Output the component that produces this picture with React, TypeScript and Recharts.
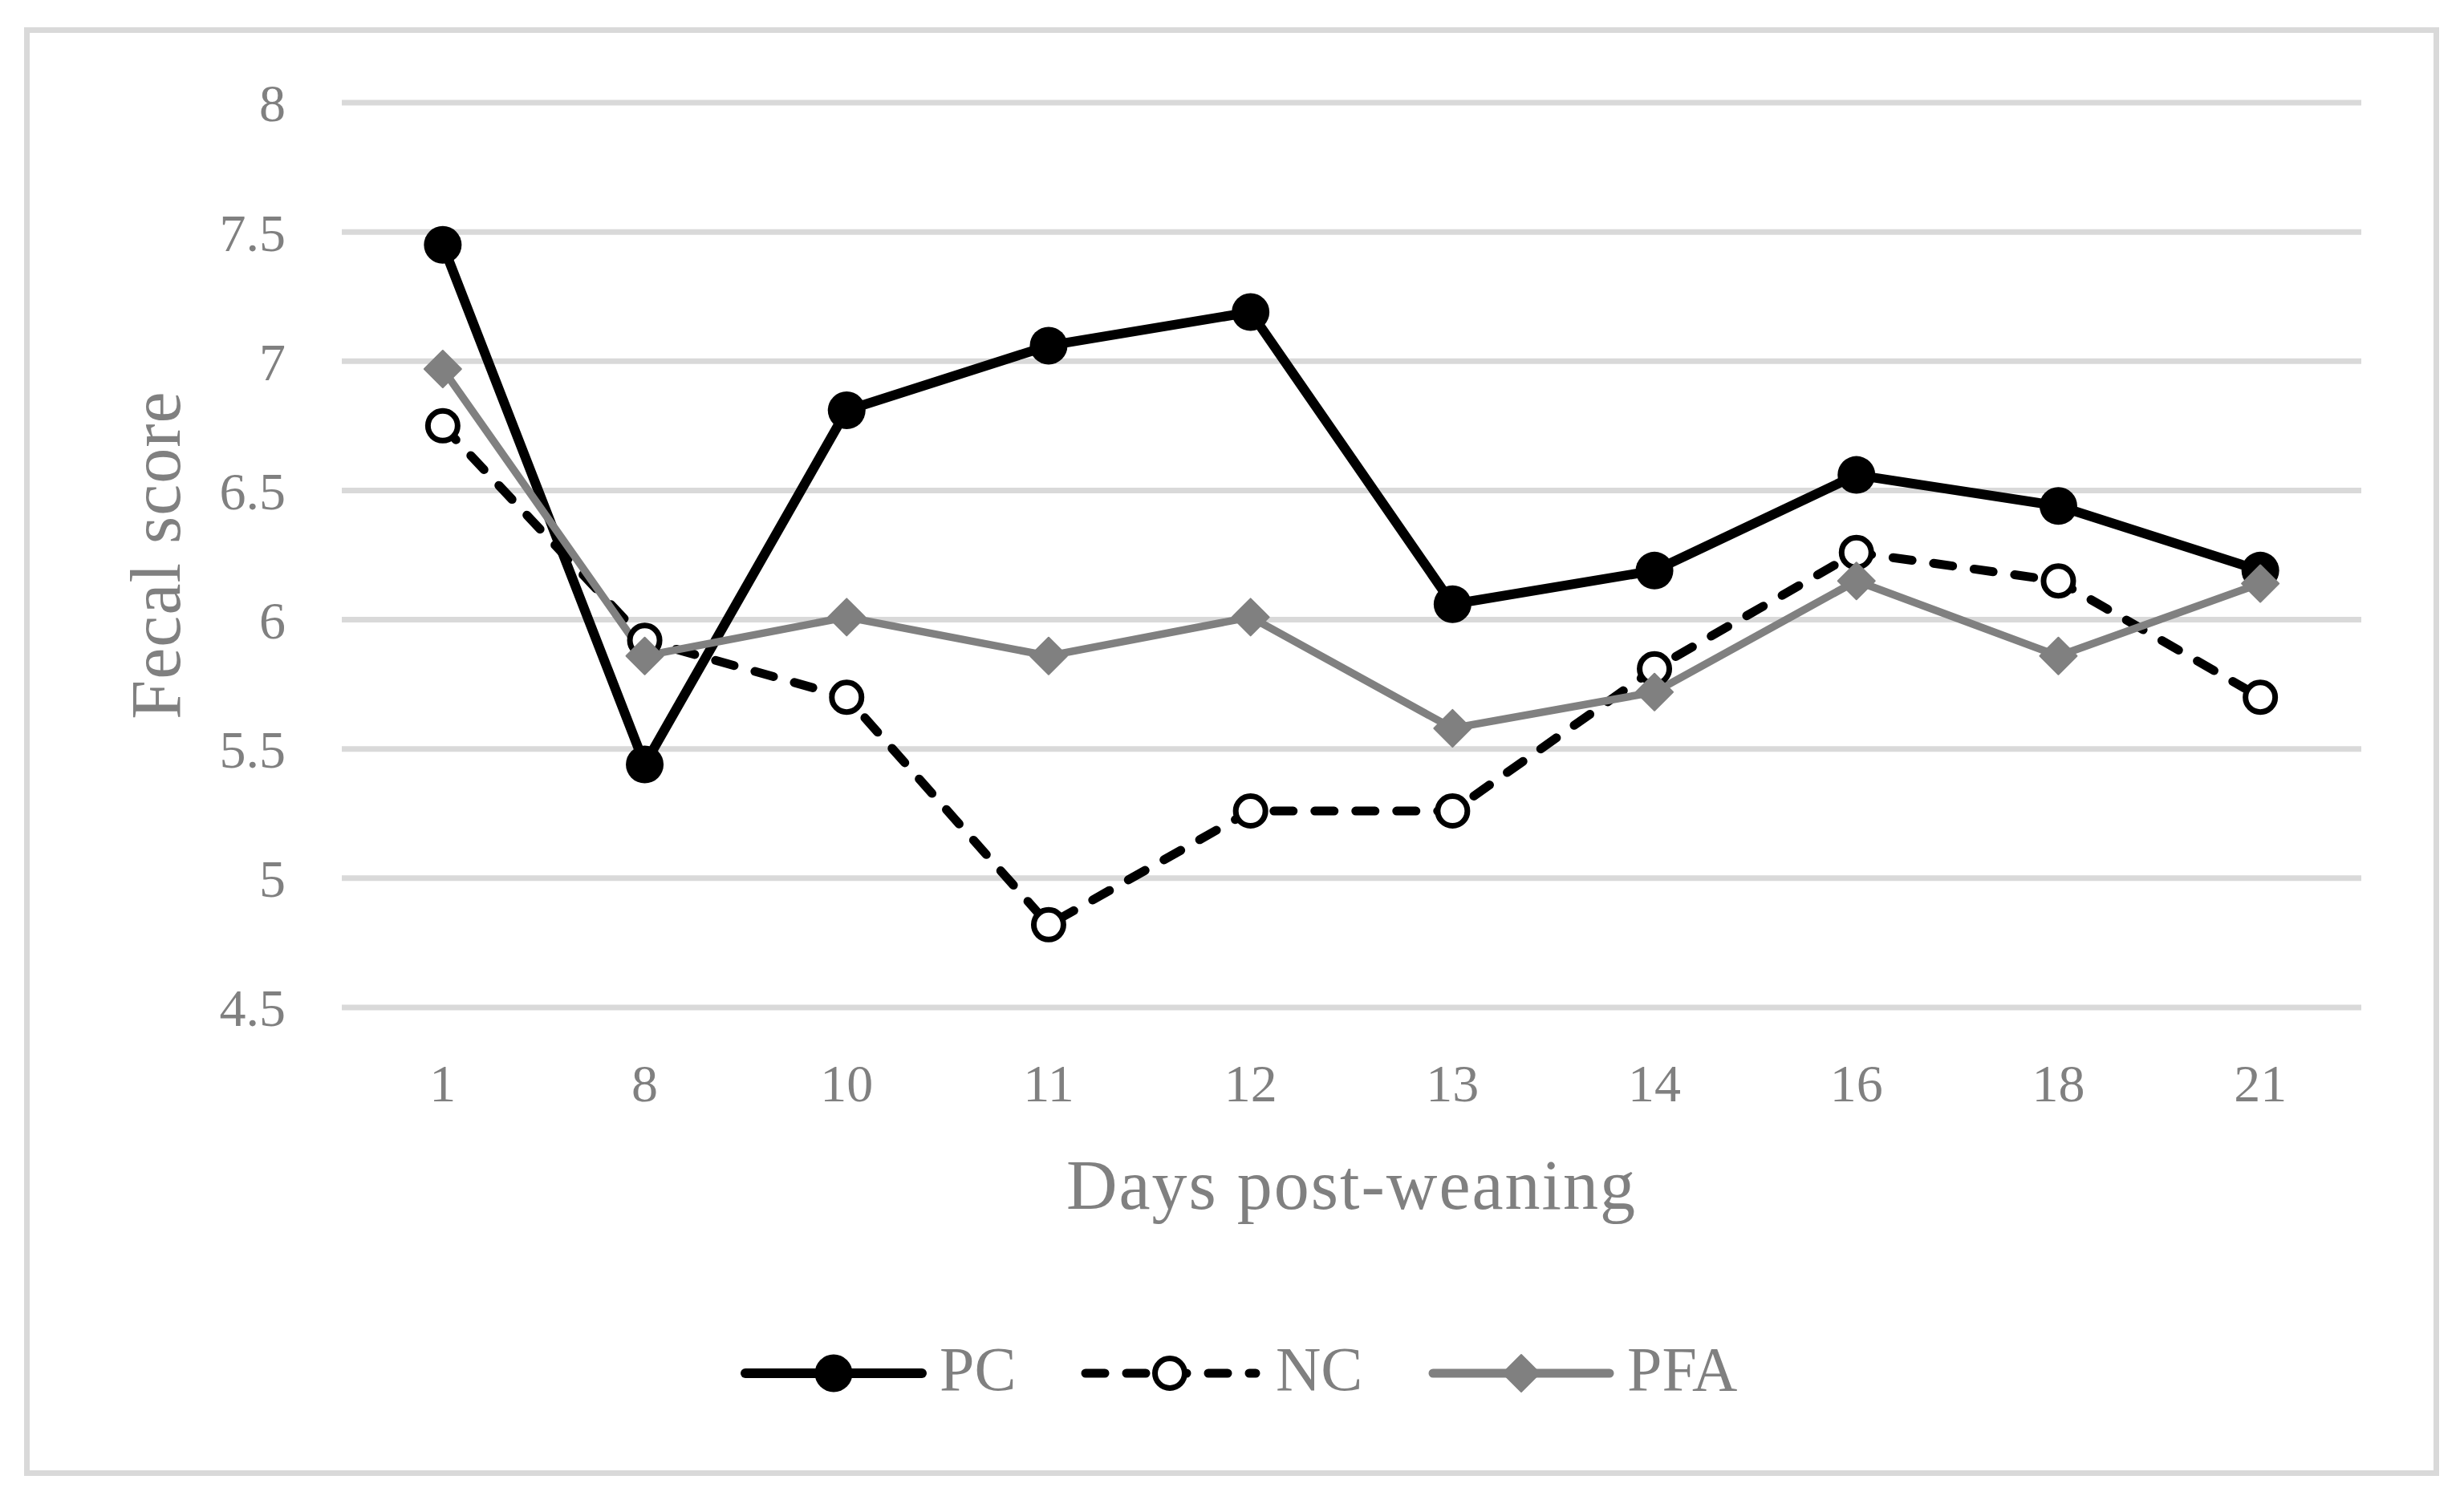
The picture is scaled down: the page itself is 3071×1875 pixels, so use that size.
import React from 'react';
import { LineChart, Line, XAxis, YAxis, CartesianGrid, Legend } from 'recharts';

const days = ['1', '8', '10', '11', '12', '13', '14', '16', '18', '21'];
const pcValues = [7.45, 5.44, 6.81, 7.06, 7.19, 6.06, 6.19, 6.56, 6.44, 6.19];
const ncValues = [6.75, 5.92, 5.7, 4.82, 5.26, 5.26, 5.81, 6.26, 6.15, 5.7];
const pfaValues = [6.97, 5.86, 6.01, 5.86, 6.01, 5.58, 5.72, 6.15, 5.86, 6.14];
const yTicks = [4.5, 5, 5.5, 6, 6.5, 7, 7.5, 8];
const seriesNames = ['PC', 'NC', 'PFA'];

const data = days.map((d, i) => ({
  day: d,
  PC: pcValues[i],
  NC: ncValues[i],
  PFA: pfaValues[i],
}));

const W = 3071;
const H = 1875;
const FONT = '"Liberation Serif", "Times New Roman", serif';
const TEXT = '#808080';
const GRID = '#d9d9d9';
const GRAY = '#808080';

const Diamond = (props: any) => {
  const { cx, cy, index } = props;
  if (cx == null || cy == null) return <g key={`pfa-dot-${index}`} />;
  const s = 23;
  return (
    <path
      key={`pfa-dot-${index}`}
      d={`M${cx},${cy - s}L${cx + s},${cy}L${cx},${cy + s}L${cx - s},${cy}Z`}
      fill={GRAY}
      stroke={GRAY}
      strokeWidth={2}
      strokeLinejoin="round"
    />
  );
};

const XTitle = (props: any) => {
  const vb = props.viewBox || { x: 426, y: 1256, width: 2517, height: 619 };
  return (
    <text
      x={vb.x + vb.width / 2}
      y={vb.y + 251}
      textAnchor="middle"
      fill={TEXT}
      fontFamily={FONT}
      fontSize={88}
      letterSpacing={2}
    >
      Days post-weaning
    </text>
  );
};

const YTitle = (props: any) => {
  const vb = props.viewBox || { x: 0, y: 128, width: 426, height: 1128 };
  const cx = 224;
  const cy = vb.y + vb.height / 2;
  return (
    <text
      x={cx}
      y={cy}
      textAnchor="middle"
      transform={`rotate(-90, ${cx}, ${cy})`}
      fill={TEXT}
      fontFamily={FONT}
      fontSize={88}
      letterSpacing={1}
    >
      Fecal score
    </text>
  );
};

const legendItemX = [929, 1348, 1786];

const renderLegend = (props: any) => {
  const payload = props.payload || [];
  const present = payload.map((p: any) => p.value);
  const names = seriesNames.filter((n) => present.length === 0 || present.includes(n));
  const cy = 62;
  return (
    <svg width={W} height={124} style={{ display: 'block' }}>
      {names.map((name: string) => {
        const i = seriesNames.indexOf(name);
        const x0 = legendItemX[i];
        const mx = x0 + 110;
        let icon = null;
        if (name === 'PC') {
          icon = (
            <g>
              <line x1={x0} y1={cy} x2={x0 + 220} y2={cy} stroke="#000" strokeWidth={12} strokeLinecap="round" />
              <circle cx={mx} cy={cy} r={23.5} fill="#000" />
            </g>
          );
        } else if (name === 'NC') {
          icon = (
            <g>
              <line
                x1={x0 + 5}
                y1={cy}
                x2={x0 + 217}
                y2={cy}
                stroke="#000"
                strokeWidth={11}
                strokeDasharray="24 27"
                strokeLinecap="round"
              />
              <circle cx={mx} cy={cy} r={18.5} fill="#fff" stroke="#000" strokeWidth={7} />
            </g>
          );
        } else {
          icon = (
            <g>
              <line x1={x0} y1={cy} x2={x0 + 220} y2={cy} stroke={GRAY} strokeWidth={11} strokeLinecap="round" />
              <path
                d={`M${mx},${cy - 23}L${mx + 23},${cy}L${mx},${cy + 23}L${mx - 23},${cy}Z`}
                fill={GRAY}
                stroke={GRAY}
                strokeWidth={2}
                strokeLinejoin="round"
              />
            </g>
          );
        }
        return (
          <g key={name}>
            {icon}
            <text x={x0 + 242} y={cy + 21} fill={TEXT} fontFamily={FONT} fontSize={78}>
              {name}
            </text>
          </g>
        );
      })}
    </svg>
  );
};

export default function App() {
  return (
    <div
      style={{
        position: 'absolute',
        left: 0,
        top: 0,
        width: W,
        height: H,
        background: '#fff',
        overflow: 'hidden',
      }}
    >
      <div
        style={{
          position: 'absolute',
          left: 30,
          top: 33.5,
          width: 3010,
          height: 1806,
          border: `7px solid ${GRID}`,
          boxSizing: 'border-box',
          pointerEvents: 'none',
        }}
      />
      <LineChart
        width={W}
        height={H}
        data={data}
        margin={{ top: 128, right: 128, left: 0, bottom: 0 }}
      >
        <CartesianGrid horizontal vertical={false} stroke={GRID} strokeWidth={7} />
        <XAxis
          dataKey="day"
          type="category"
          height={619}
          axisLine={false}
          tickLine={false}
          tickSize={0}
          tickMargin={70}
          padding={{ left: 125.85, right: 125.85 }}
          interval={0}
          tick={{ fill: TEXT, fontSize: 66, fontFamily: FONT }}
          label={<XTitle />}
        />
        <YAxis
          width={426}
          domain={[4.5, 8]}
          ticks={yTicks}
          type="number"
          axisLine={false}
          tickLine={false}
          tickSize={0}
          tickMargin={70}
          interval={0}
          tick={{ fill: TEXT, fontSize: 66, fontFamily: FONT }}
          label={<YTitle />}
        />
        <Legend
          layout="horizontal"
          verticalAlign="middle"
          align="center"
          wrapperStyle={{ top: 1650, left: 0, width: W, height: 124 }}
          content={renderLegend}
        />
        <Line
          dataKey="PC"
          name="PC"
          stroke="#000"
          strokeWidth={12}
          strokeLinejoin="round"
          dot={{ r: 23.5, fill: '#000', stroke: 'none' }}
          activeDot={false}
          isAnimationActive={false}
        />
        <Line
          dataKey="NC"
          name="NC"
          stroke="#000"
          strokeWidth={11}
          strokeDasharray="24 27"
          strokeLinecap="round"
          strokeLinejoin="round"
          dot={{ r: 18.5, fill: '#fff', stroke: '#000', strokeWidth: 7, strokeDasharray: 'none' }}
          activeDot={false}
          isAnimationActive={false}
        />
        <Line
          dataKey="PFA"
          name="PFA"
          stroke={GRAY}
          strokeWidth={9.5}
          strokeLinejoin="round"
          dot={Diamond}
          activeDot={false}
          isAnimationActive={false}
        />
      </LineChart>
    </div>
  );
}
